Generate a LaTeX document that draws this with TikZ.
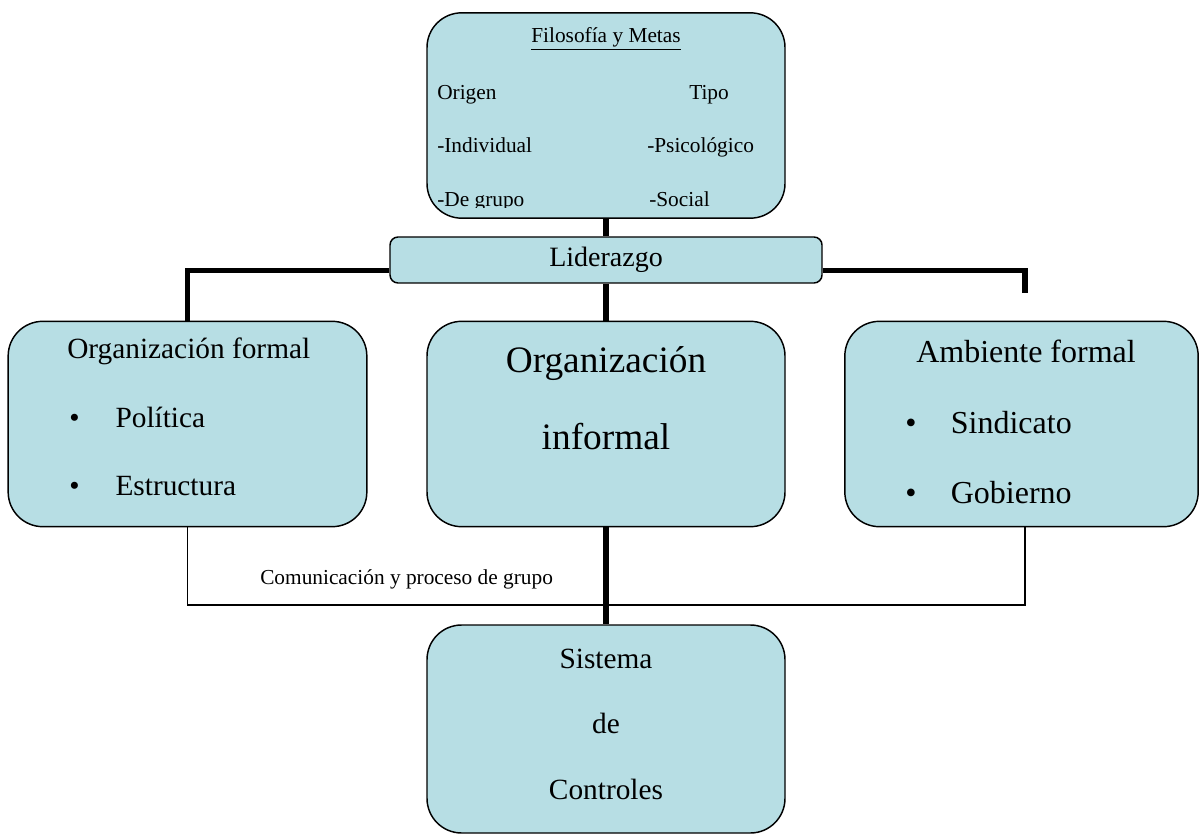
\documentclass[tikz,border=0pt]{standalone}
\usepackage{fontspec}
\setmainfont{Liberation Serif}
\usetikzlibrary{positioning}
\definecolor{azulcaja}{RGB}{183,222,228}
\tikzset{%
  caja/.style   = {shape=rectangle, rounded corners=26pt,%
                   draw, line width=1.1pt, fill=azulcaja,%
                   minimum width=268.5pt, minimum height=154pt, inner sep=0pt},%
  lider/.style  = {caja, rounded corners=6pt, minimum width=324pt,%
                   minimum height=34.5pt, font=\fontsize{21}{25}\selectfont},%
  texto/.style  = {inner sep=0pt, anchor=base west},%
  centro/.style = {inner sep=0pt, anchor=base},%
  barra/.style  = {line width=3.8pt},%
  linea/.style  = {line width=1pt}%
}

\begin{document}
\begin{tikzpicture}[x=0.75pt,y=-0.75pt,
	chico/.style={font=\fontsize{16}{19}\selectfont},
	medio/.style={font=\fontsize{22}{26}\selectfont},
	grande/.style={font=\fontsize{28}{33}\selectfont}]
	\useasboundingbox (0,0) rectangle (1199,834);
	% cajas
	\node[caja] (metas) at (606,115.5) {};
	\node[lider] (liderazgo) at (606,260) {Liderazgo};
	\node[caja, minimum width=269pt] (formal) at (187.5,424) {};
	\node[caja] (informal) at (606,424) {};
	\node[caja, minimum width=265pt] (ambiente) at (1021.5,424) {};
	\node[caja, minimum height=156pt] (controles) at (606,729) {};
	\coordinate (tope) at (1025,293);
	\coordinate (abajo) at (1025,605);
	% conectores
	\draw[barra] (metas.south) -- (liderazgo.north);
	\draw[barra] ([yshift=-8pt]liderazgo.west) -| (formal.north);
	\draw[barra] ([yshift=-8pt]liderazgo.east) -| (tope);
	\draw[barra] (liderazgo.south) -- (informal.north);
	\draw[linea] (formal.south) |- (abajo) -- (abajo |- ambiente.south);
	\draw[barra] (informal.south) -- (controles.north);
	% textos de metas
	\begin{scope}[chico]
		\clip (427,13) rectangle (785,208);
		\node[centro] (titulo) at (606,43) {\underline{Filosofía y Metas}};
		\node[texto] (origen) at (437,100) {Origen};
		\node[texto] (tipo) at (689,100) {Tipo};
		\node[texto] (indiv) at (437,153) {-Individual};
		\node[texto] (psico) at (647,153) {-Psicológico};
		\node[texto] (grupo) at (437,207) {-De grupo};
		\node[texto] (social) at (649,207) {-Social};
	\end{scope}
	% textos de las cajas
	\node[texto, medio] (tformal) at (67,358) {Organización formal};
	\node[texto, medio] (politica) at (69,427) {\textbullet\hspace{27pt}Política};
	\node[texto, medio] (estructura) at (69,495) {\textbullet\hspace{27pt}Estructura};
	\node[centro, grande] (tinf1) at (606,372) {Organización};
	\node[centro, grande] (tinf2) at (606,449) {informal};
	\node[texto, font=\fontsize{24}{28}\selectfont] (tamb) at (916,362) {Ambiente formal};
	\node[texto, font=\fontsize{24}{28}\selectfont] (sindicato) at (905,433) {\textbullet\hspace{25.8pt}Sindicato};
	\node[texto, font=\fontsize{24}{28}\selectfont] (gobierno) at (905,503) {\textbullet\hspace{25.8pt}Gobierno};
	\node[centro, medio] (sis) at (606,668) {Sistema};
	\node[centro, medio] (de) at (606,733) {de};
	\node[centro, medio] (ctrl) at (606,799) {Controles};
	\node[texto, chico] (comunic) at (260,584) {Comunicación y proceso de grupo};
\end{tikzpicture}
\end{document}
